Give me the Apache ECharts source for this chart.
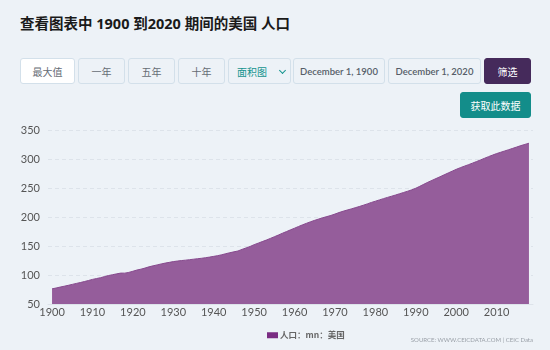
<!DOCTYPE html>
<html>
<head>
<meta charset="utf-8">
<script src="https://cdn.jsdelivr.net/npm/echarts@6/dist/echarts.min.js"></script>
<style>
  html, body { margin: 0; padding: 0; }
  body { width: 550px; height: 350px; background: #edf2f7; position: relative; overflow: hidden;
         font-family: Lato, "Noto Sans CJK SC", sans-serif; }
  h1 { position: absolute; left: 20px; top: 13px; margin: 0; font-size: 14.5px; font-weight: 700; color: #1a1a1a;
       font-family: "Noto Sans", "Noto Sans CJK SC", sans-serif; letter-spacing: 0; line-height: 20px; }
  .btn { position: absolute; top: 58px; height: 26px; box-sizing: border-box; border: 1px solid #d3e0ea;
         border-radius: 3px; background: #edf2f7; color: #666c75; font-size: 10px; display: flex;
         align-items: center; justify-content: center; font-family: "Noto Sans CJK SC", sans-serif; }
  .active { background: #ffffff; }
  .sel { color: #14948f; justify-content: flex-start; padding-left: 8px; }
  .sel .arrow { position: absolute; right: 5px; top: 9px; width: 4px; height: 4px; border-right: 1.5px solid #14948f;
                border-bottom: 1.5px solid #14948f; transform: rotate(45deg); }
  .date { font-family: Lato, "Noto Sans", sans-serif; color: #555d68; font-size: 9.5px; font-weight: 600; }
  .filter { background: #452a5b; border-color: #452a5b; color: #ffffff; }
  .fetch { top: 92px; background: #138d8a; border-color: #138d8a; color: #ffffff; }
  #chart { position: absolute; left: 0; top: 120px; width: 550px; height: 230px; }
</style>
</head>
<body>
<h1>查看图表中 1900 到2020 期间的美国 人口</h1>
<div class="btn active" style="left:20px;width:55px;">最大值</div>
<div class="btn" style="left:78px;width:47px;">一年</div>
<div class="btn" style="left:128px;width:47px;">五年</div>
<div class="btn" style="left:178px;width:47px;">十年</div>
<div class="btn sel" style="left:228px;width:63px;">面积图<span class="arrow"></span></div>
<div class="btn date" style="left:293px;width:92px;">December 1, 1900</div>
<div class="btn date" style="left:388px;width:93px;">December 1, 2020</div>
<div class="btn filter" style="left:484px;width:47px;">筛选</div>
<div class="btn fetch" style="left:460px;width:71px;">获取此数据</div>
<div id="chart"></div>
<script>
// US population, millions, one value per year
const years = [];
for (let y = 1900; y <= 2018; y++) years.push(y);
const population = [
  76.09, 77.58, 79.16, 80.63, 82.17, 83.82, 85.45, 87.01, 88.71, 90.49,
  92.41, 93.86, 95.34, 97.23, 99.11, 100.55, 101.96, 103.27, 103.21, 104.51,
  106.46, 108.54, 110.05, 111.95, 114.11, 115.83, 117.40, 119.04, 120.51, 121.77,
  123.08, 124.04, 124.84, 125.58, 126.37, 127.25, 128.05, 128.83, 129.83, 130.88,
  132.12, 133.40, 134.86, 136.74, 138.40, 139.93, 141.39, 144.13, 146.63, 149.19,
  152.27, 154.88, 157.55, 160.18, 163.03, 165.93, 168.90, 171.98, 174.88, 177.83,
  180.67, 183.69, 186.54, 189.24, 191.89, 194.30, 196.56, 198.71, 200.71, 202.68,
  205.05, 207.66, 209.90, 211.91, 213.85, 215.97, 218.04, 220.24, 222.59, 225.06,
  227.22, 229.47, 231.66, 233.79, 235.82, 237.92, 240.13, 242.29, 244.50, 246.82,
  249.62, 252.98, 256.51, 259.92, 263.13, 266.28, 269.39, 272.65, 275.85, 279.04,
  282.16, 284.97, 287.63, 290.11, 292.81, 295.52, 298.38, 301.23, 304.09, 306.77,
  309.33, 311.58, 313.87, 316.06, 318.39, 320.74, 323.07, 325.15, 327.17
];
const xTicks = [1900, 1910, 1920, 1930, 1940, 1950, 1960, 1970, 1980, 1990, 2000, 2010];
const seriesName = '人口：mn：美国';

const chart = echarts.init(document.getElementById('chart'));
chart.setOption({
  animation: false,
  grid: { left: 48, right: 17, top: 10, height: 174 },
  xAxis: {
    type: 'value', min: 1899, max: 2019,
    axisLine: { show: true, lineStyle: { color: '#dde3ea' } },
    axisTick: { show: false },
    splitLine: { show: false },
    axisLabel: {
      customValues: xTicks, color: '#555', fontSize: 11, fontFamily: 'Lato', margin: 3,
      formatter: v => String(v)
    }
  },
  yAxis: {
    type: 'value', min: 50, max: 350, interval: 50,
    axisLine: { show: false }, axisTick: { show: false },
    axisLabel: { color: '#555', fontSize: 11, fontFamily: 'Lato', margin: 8 },
    splitLine: { lineStyle: { color: '#dde3ea', type: [4, 3] } }
  },
  legend: {
    top: 206, left: 262, itemWidth: 11, itemHeight: 6, itemGap: 4, icon: 'rect',
    textStyle: { color: '#666', fontSize: 8.5, fontWeight: 'bold', fontFamily: '"Noto Sans CJK SC", sans-serif', padding: [0, 0, 0, -3] },
    data: [{ name: seriesName, itemStyle: { color: '#7a2d83' } }]
  },
  graphic: [{
    type: 'text', right: 17, top: 217,
    style: { text: 'SOURCE: WWW.CEICDATA.COM | CEIC Data', fill: '#9aa0a8', fontSize: 6, fontFamily: 'Lato' }
  }],
  series: [{
    name: seriesName, type: 'line', showSymbol: false,
    data: years.map((y, i) => [y, population[i]]),
    lineStyle: { color: '#86498d', width: 1 },
    itemStyle: { color: '#7a2d83' },
    areaStyle: { color: '#955d9b', opacity: 1, origin: 'start' }
  }]
});
</script>
</body>
</html>
